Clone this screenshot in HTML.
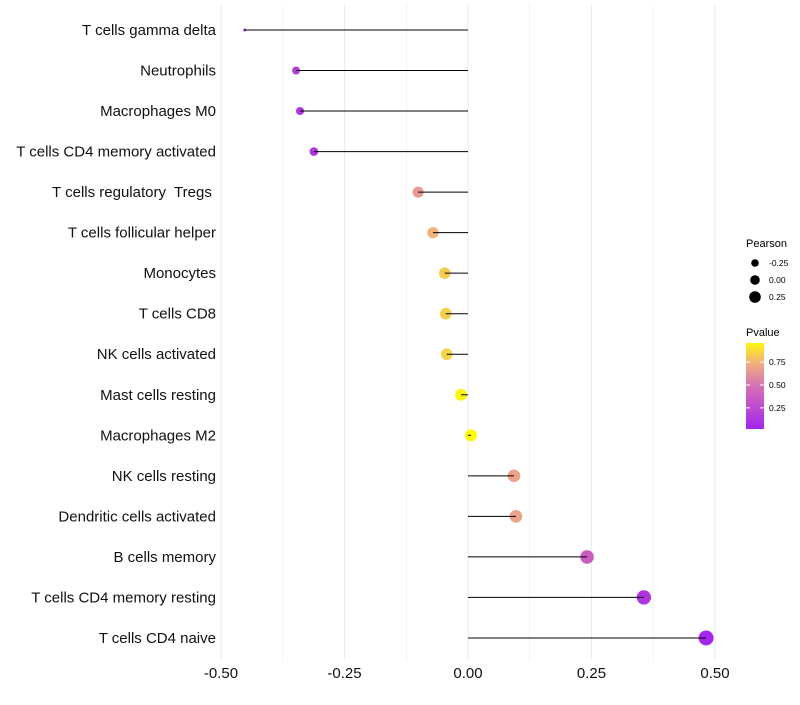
<!DOCTYPE html>
<html><head><meta charset="utf-8"><style>
body{margin:0;background:#fff;font-family:"Liberation Sans",sans-serif}
svg text{font-family:"Liberation Sans",sans-serif;white-space:pre}
</style></head><body>
<svg id="c" width="800" height="700"></svg>
<script>
const categories=["T cells gamma delta","Neutrophils","Macrophages M0","T cells CD4 memory activated","T cells regulatory  Tregs ","T cells follicular helper","Monocytes","T cells CD8","NK cells activated","Mast cells resting","Macrophages M2","NK cells resting","Dendritic cells activated","B cells memory","T cells CD4 memory resting","T cells CD4 naive"];
const pearson=[-0.452,-0.348,-0.340,-0.312,-0.101,-0.071,-0.047,-0.045,-0.043,-0.014,0.006,0.093,0.097,0.241,0.356,0.482];
const pvalues=[0.05,0.18,0.16,0.14,0.66,0.76,0.84,0.85,0.86,0.97,0.99,0.70,0.70,0.38,0.14,0.05];
const xTicks=[-0.5,-0.25,0,0.25,0.5];
const xTickLabels=["-0.50","-0.25","0.00","0.25","0.50"];
const sizeLegend=[-0.25,0,0.25];
const colorLegend=[0.25,0.5,0.75];
const NS="http://www.w3.org/2000/svg",svg=document.getElementById('c');
function mk(t,a,p){const e=document.createElementNS(NS,t);for(const k in a)e.setAttribute(k,a[k]);(p||svg).appendChild(e);return e;}
const x=v=>468+v*494, y=i=>30+i*40.53;
const vmin=Math.min(...pearson),vmax=Math.max(...pearson);
const r=v=>1.5+6*Math.pow(Math.max(0,(v-vmin)/(vmax-vmin)),0.4);
const stops=[[0,[160,32,240]],[0.5,[214,112,180]],[0.75,[240,176,128]],[1,[255,255,0]]];
function col(p){for(let i=1;i<stops.length;i++){if(p<=stops[i][0]){const a=stops[i-1],b=stops[i],t=(p-a[0])/(b[0]-a[0]);return 'rgb('+a[1].map((c,j)=>Math.round(c+(b[1][j]-c)*t)).join(',')+')';}}return 'rgb(255,255,0)';}
[-0.5,-0.375,-0.25,-0.125,0,0.125,0.25,0.375,0.5].forEach(v=>{const g=mk('line',{x1:x(v),x2:x(v),y1:5,y2:660,stroke:'#ebebeb','stroke-width':Number.isInteger(v*4)?1.1:0.6});

});
categories.forEach((c,i)=>{
const pt=mk('circle',{cx:x(pearson[i]),cy:y(i),r:r(pearson[i]),fill:col(pvalues[i])});


const s=mk('line',{x1:x(0),x2:x(pearson[i]),y1:y(i),y2:y(i),stroke:'#000','stroke-width':1});


const t=mk('text',{x:216,y:y(i)+5,'text-anchor':'end','font-size':15,fill:'#111'});t.textContent=c;


});
xTicks.forEach((v,i)=>{const t=mk('text',{x:x(v),y:678,'text-anchor':'middle','font-size':15,fill:'#111'});t.textContent=xTickLabels[i];

});
let t=mk('text',{x:746,y:247,'font-size':11});t.textContent='Pearson';


sizeLegend.forEach((v,i)=>{const yy=263+i*17;const c=mk('circle',{cx:755,cy:yy,r:[3.8,4.8,5.8][i],fill:'#000'});


const l=mk('text',{x:769,y:yy+3,'font-size':8.5});l.textContent=v.toFixed(2);

});
t=mk('text',{x:746,y:336,'font-size':11});t.textContent='Pvalue';


const defs=mk('defs',{});const lg=mk('linearGradient',{id:'g',x1:0,y1:1,x2:0,y2:0},defs);
for(let k=0;k<=10;k++){mk('stop',{offset:k/10,'stop-color':col(0.03+k*0.094)},lg);}
const bar=mk('rect',{x:746,y:343,width:18,height:86,fill:'url(#g)'});


colorLegend.forEach(v=>{const yy=428-(v-0.03)/0.94*86;mk('line',{x1:746,x2:750,y1:yy,y2:yy,stroke:'#fff'});mk('line',{x1:760,x2:764,y1:yy,y2:yy,stroke:'#fff'});
const l=mk('text',{x:769,y:yy+3,'font-size':8.5});l.textContent=v.toFixed(2);

});
</script></body></html>
